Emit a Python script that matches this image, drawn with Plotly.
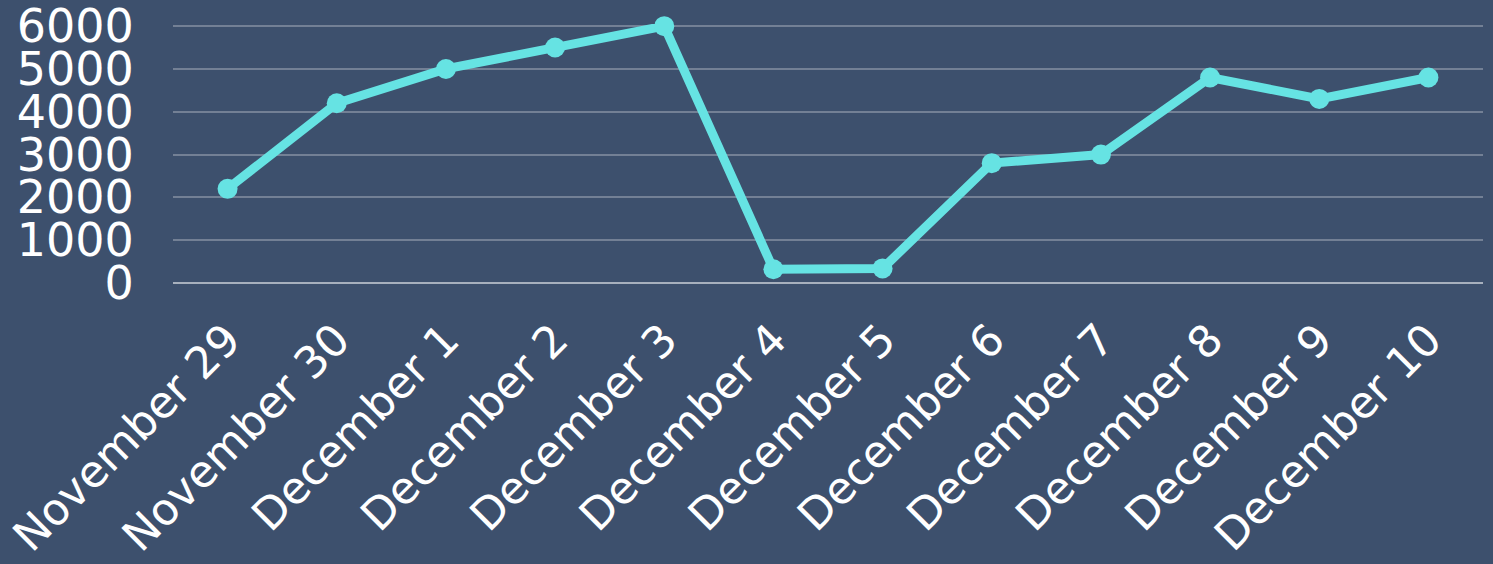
import plotly.graph_objects as go

dates = ["November 29", "November 30", "December 1", "December 2", "December 3",
         "December 4", "December 5", "December 6", "December 7", "December 8",
         "December 9", "December 10"]
values = [2200, 4200, 5000, 5500, 6000, 320, 340, 2800, 3000, 4800, 4300, 4800]
y_ticks = [0, 1000, 2000, 3000, 4000, 5000, 6000]

BG = "#3d506d"
LINE = "#66e3e3"

fig = go.Figure(go.Scatter(
    x=dates, y=values, mode="lines+markers",
    line=dict(color=LINE, width=9),
    marker=dict(color=LINE, size=20),
    cliponaxis=False,
))

FONT = "DejaVu Sans"
fig.update_layout(
    width=1493, height=564,
    paper_bgcolor=BG, plot_bgcolor=BG,
    margin=dict(l=173, r=10, t=24, b=281, autoexpand=False),
    showlegend=False,
    font=dict(family=FONT, color="white", size=46),
)
fig.update_xaxes(
    type="category", range=[-0.5, 11.5], showgrid=False, zeroline=False,
    tickangle=-45, tickfont=dict(size=44, family=FONT, color="white"),
    ticks="outside", ticklen=12, tickcolor="rgba(0,0,0,0)",
    showline=False, automargin=False, ticklabeloverflow="allow",
)
fig.update_yaxes(
    range=[0, 6050], tickvals=y_ticks, ticktext=[str(v) for v in y_ticks],
    showgrid=True, gridcolor="rgba(255,255,255,0.28)", gridwidth=2,
    zeroline=True, zerolinecolor="rgba(255,255,255,0.55)", zerolinewidth=2,
    tickfont=dict(size=46, family=FONT, color="white"),
    ticks="outside", ticklen=29, tickcolor="rgba(0,0,0,0)",
    showline=False, automargin=False, ticklabeloverflow="allow",
)
fig.write_html("out.html", config={"displayModeBar": False},
               post_script="document.body.style.margin='0';document.body.style.background='%s';" % BG)
